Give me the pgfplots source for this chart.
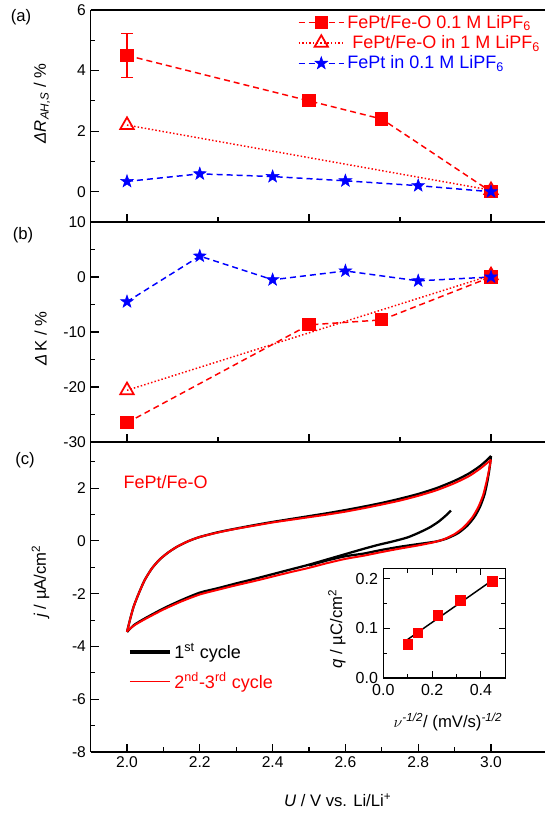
\documentclass[border=0pt]{standalone}
\usepackage{fontspec}
\setmainfont{Liberation Sans}
\usepackage{pgfplots}
\pgfplotsset{compat=1.18}

% filled five-pointed star
\pgfdeclareplotmark{fstar}{%
  \pgfpathmoveto{\pgfpointpolar{90}{\pgfplotmarksize}}%
  \pgfpathlineto{\pgfpointpolar{126}{0.4\pgfplotmarksize}}%
  \pgfpathlineto{\pgfpointpolar{162}{\pgfplotmarksize}}%
  \pgfpathlineto{\pgfpointpolar{198}{0.4\pgfplotmarksize}}%
  \pgfpathlineto{\pgfpointpolar{234}{\pgfplotmarksize}}%
  \pgfpathlineto{\pgfpointpolar{270}{0.4\pgfplotmarksize}}%
  \pgfpathlineto{\pgfpointpolar{306}{\pgfplotmarksize}}%
  \pgfpathlineto{\pgfpointpolar{342}{0.4\pgfplotmarksize}}%
  \pgfpathlineto{\pgfpointpolar{18}{\pgfplotmarksize}}%
  \pgfpathlineto{\pgfpointpolar{54}{0.4\pgfplotmarksize}}%
  \pgfpathclose
  \pgfusepathqfillstroke}

\pgfplotsset{
  base/.style={
    scale only axis, anchor=south west,
    tick align=inside,
    axis line style={line width=0.9pt},
    major tick length=6pt, minor tick length=3.5pt,
    every tick/.style={line width=0.8pt, black},
    tick label style={font=\fontsize{11.7}{13}\selectfont},
    label style={font=\fontsize{12.5}{15}\selectfont},
    /pgf/number format/assume math mode=true,
  },
  panel/.style={
    base, width=341.25pt,
    xmin=1.9, xmax=3.15,
    axis y line*=left,
    xtick pos=lower,
  },
  dashA/.style={dash pattern=on 4.5pt off 3pt, line width=1.1pt},
  dotA/.style={dash pattern=on 1.1pt off 1.6pt, line width=1.1pt},
  sq/.style={red, dashA, mark=square*, mark size=4.4pt, mark options={solid, fill=red}},
  tri/.style={red, dotA, mark=triangle, mark size=5.8pt, mark options={solid, line width=1.3pt}},
  st/.style={blue, dashA, mark=fstar, mark size=5pt, mark options={solid, fill=blue, line width=0.4pt}},
}

\begin{document}
\begin{tikzpicture}
\useasboundingbox (0,0) rectangle (408.75pt,610.5pt);

% ---------- (a)
\begin{axis}[panel, at={(67.95pt,444pt)}, height=159pt,
  ymin=-1, ymax=6, ytick={0,2,4,6}, minor ytick={1,3,5},
  xtick={2,2.5,3}, minor xtick={2.25,2.75}, xticklabels={},
  ylabel={\textit{ΔR}\textsubscript{\textit{AH,S}} / \%},
  ylabel style={at={(axis description cs:-0.107,0.56)}, anchor=center},
  legend style={at={(axis description cs:0.455,0.99)}, anchor=north west,
    draw=none, fill=none, inner sep=0pt, row sep=0pt,
    font=\fontsize{13.5}{16}\selectfont},
  legend cell align=left,
  legend image code/.code={\draw[mark repeat=2, mark phase=2] plot coordinates {(0pt,0pt) (17pt,0pt) (34pt,0pt)};},
]
\addplot[sq] coordinates {(2.0,4.5) (2.5,3.0) (2.7,2.4) (3.0,0.0)};
\addlegendentry{\textcolor{red}{FePt/Fe-O 0.1 M LiPF\textsubscript{6}}}
\addplot[tri] coordinates {(2.0,2.2) (3.0,0.05)};
\addlegendentry{\textcolor{red}{\ FePt/Fe-O in 1 M LiPF\textsubscript{6}}}
\addplot[st] coordinates {(2.0,0.34) (2.2,0.59) (2.4,0.50) (2.6,0.36) (2.8,0.20) (3.0,0.0)};
\addlegendentry{\textcolor{blue}{FePt in 0.1 M LiPF\textsubscript{6}}}
\addplot[forget plot, red, draw=none, mark=none,
  error bars/.cd, y dir=both, y explicit,
  error bar style={line width=0.8pt, red, solid},
  error mark options={rotate=90, mark size=4.5pt, red, line width=0.8pt}]
  coordinates {(2.0,4.5) +- (0,0.72)};
\end{axis}

% ---------- (b)
\begin{axis}[panel, at={(67.95pt,279pt)}, height=165pt,
  ymin=-30, ymax=10, ytick={-30,-20,-10,0,10}, minor ytick={-25,-15,-5,5},
  xtick={2,2.5,3}, minor xtick={2.25,2.75}, xticklabels={},
  ylabel={\textit{Δ}\,K / \%},
  ylabel style={at={(axis description cs:-0.11,0.47)}, anchor=center},
]
\addplot[sq] coordinates {(2.0,-26.5) (2.5,-8.7) (2.7,-7.8) (3.0,0.0)};
\addplot[tri] coordinates {(2.0,-20.6) (3.0,0.3)};
\addplot[st] coordinates {(2.0,-4.5) (2.2,3.8) (2.4,-0.5) (2.6,1.1) (2.8,-0.7) (3.0,0.0)};
\end{axis}

% ---------- (c)
\begin{axis}[panel, at={(67.95pt,46.5pt)}, height=232.5pt,
  ymin=-8, ymax=3.75, ytick={-8,-6,-4,-2,0,2}, minor ytick={-7,-5,-3,-1,1,3},
  xtick={2,2.2,2.4,2.6,2.8,3}, minor xtick={2.1,2.3,2.5,2.7,2.9},
  xticklabel style={/pgf/number format/.cd, fixed, fixed zerofill, precision=1},
  ylabel={\textit{j} / µA/cm\textsuperscript{2}},
  ylabel style={at={(axis description cs:-0.11,0.55)}, anchor=center},
  xlabel={\textit{U} / V vs. Li/Li\textsuperscript{+}},
  xlabel style={at={(axis description cs:0.543,-0.155)}, anchor=center},
  legend style={at={(axis description cs:0.082,0.36)}, anchor=north west,
    draw=none, fill=none, inner sep=0pt, row sep=5pt,
    font=\fontsize{13.5}{16}\selectfont},
  legend cell align=left,
  legend image code/.code={\draw (0pt,0pt) -- (30pt,0pt);},
]
\addlegendimage{black, line width=2.6pt}
\addlegendentry{1\textsuperscript{st} cycle}
\addlegendimage{red, line width=1.2pt}
\addlegendentry{\textcolor{red}{2\textsuperscript{nd}-3\textsuperscript{rd} cycle}}
% 1st cycle (black)
\addplot[forget plot, black, line width=1.7pt, smooth, tension=0.4] coordinates {
 (2.890,1.15) (2.875,0.95) (2.855,0.72) (2.830,0.50) (2.800,0.30) (2.770,0.13)
 (2.730,-0.02) (2.690,-0.15) (2.650,-0.30) (2.600,-0.50) (2.550,-0.70)
 (2.500,-0.90) (2.450,-1.08) (2.400,-1.26) (2.350,-1.44) (2.300,-1.61)
 (2.250,-1.79) (2.200,-1.96) (2.150,-2.24) (2.100,-2.56) (2.050,-2.93)
 (2.020,-3.18) (2.000,-3.45)};
\addplot[forget plot, black, line width=1.7pt, smooth, tension=0.4] coordinates {
 (2.000,-3.45) (2.008,-3.00) (2.018,-2.50) (2.032,-2.00) (2.048,-1.50)
 (2.068,-1.05) (2.090,-0.70) (2.115,-0.42) (2.140,-0.20) (2.170,0.00)
 (2.200,0.15) (2.250,0.33) (2.300,0.47) (2.350,0.60) (2.400,0.72)
 (2.450,0.83) (2.500,0.94) (2.550,1.05) (2.600,1.17) (2.650,1.30)
 (2.700,1.44) (2.750,1.60) (2.800,1.78) (2.850,2.00) (2.900,2.28)
 (2.940,2.56) (2.970,2.84) (2.990,3.08) (3.000,3.22)};
\addplot[forget plot, black, line width=1.7pt, smooth, tension=0.4] coordinates {
 (3.000,3.22) (2.996,2.75) (2.990,2.25) (2.982,1.75) (2.970,1.30)
 (2.955,0.92) (2.935,0.58) (2.910,0.30) (2.880,0.10) (2.850,-0.02)
 (2.800,-0.12) (2.750,-0.22) (2.700,-0.34) (2.650,-0.48) (2.600,-0.58)
 (2.550,-0.74) (2.500,-0.93)};
% 2nd-3rd cycle (red)
\addplot[forget plot, red, line width=1.5pt, smooth, tension=0.4] coordinates {
 (2.000,-3.45) (2.008,-3.00) (2.018,-2.50) (2.032,-2.00) (2.048,-1.50)
 (2.068,-1.05) (2.090,-0.70) (2.115,-0.42) (2.140,-0.20) (2.170,0.00)
 (2.200,0.15) (2.250,0.32) (2.300,0.46) (2.350,0.58) (2.400,0.70)
 (2.450,0.80) (2.500,0.90) (2.550,1.00) (2.600,1.11) (2.650,1.24)
 (2.700,1.38) (2.750,1.53) (2.800,1.71) (2.850,1.92) (2.900,2.19)
 (2.940,2.46) (2.970,2.74) (2.990,2.96) (3.000,3.08)};
\addplot[forget plot, red, line width=1.5pt, smooth, tension=0.4] coordinates {
 (3.000,3.08) (2.994,2.65) (2.987,2.20) (2.978,1.72) (2.965,1.28)
 (2.948,0.88) (2.925,0.52) (2.900,0.26) (2.870,0.06) (2.840,-0.06)
 (2.800,-0.17) (2.750,-0.29) (2.700,-0.42) (2.650,-0.56) (2.600,-0.68)
 (2.550,-0.84) (2.500,-1.02) (2.450,-1.18) (2.400,-1.35) (2.350,-1.52)
 (2.300,-1.68) (2.250,-1.85) (2.200,-2.03) (2.150,-2.29) (2.100,-2.60)
 (2.050,-2.96) (2.020,-3.20) (2.000,-3.42)};
\node[anchor=west, red, font=\fontsize{13.5}{16}\selectfont]
  at (axis description cs:0.062,0.871) {FePt/Fe-O};
\end{axis}

% ---------- inset
\begin{axis}[base, at={(287.5pt,102pt)}, width=91.5pt, height=81.9pt,
  xmin=0, xmax=0.5, ymin=0, ymax=0.22,
  xtick={0,0.2,0.4}, minor xtick={0.1,0.3,0.5},
  ytick={0,0.1,0.2}, minor ytick={0.05,0.15},
  major tick length=5pt, minor tick length=3pt,
  tick label style={font=\fontsize{12}{13}\selectfont},
  xticklabel style={yshift=-1.5pt, /pgf/number format/.cd, fixed, fixed zerofill, precision=1},
  yticklabel style={xshift=-0.5pt, /pgf/number format/.cd, fixed, fixed zerofill, precision=1},
  ylabel={\textit{q} / µC/cm\textsuperscript{2}},
  ylabel style={at={(axis description cs:-0.38,0.45)}, anchor=center},
  xlabel={$\nu$\textsuperscript{\textit{-1/2}}/ (mV/s)\textsuperscript{\textit{-1/2}}},
  xlabel style={at={(axis description cs:0.53,-0.40)}, anchor=center},
]
\addplot[only marks, mark=square*, mark size=3.6pt, red, mark options={fill=red}]
  coordinates {(0.1,0.068) (0.1414,0.091) (0.2236,0.126) (0.3162,0.156) (0.4472,0.195)};
\addplot[black, line width=1.1pt] coordinates {(0.095,0.076) (0.447,0.197)};
\end{axis}

% panel letters
\node[font=\fontsize{12.5}{15}\selectfont] at (15.75pt,597.75pt) {(a)};
\node[font=\fontsize{12.5}{15}\selectfont] at (17.25pt,434.25pt) {(b)};
\node[font=\fontsize{12.5}{15}\selectfont] at (18.75pt,265.5pt) {(c)};
\end{tikzpicture}
\end{document}
